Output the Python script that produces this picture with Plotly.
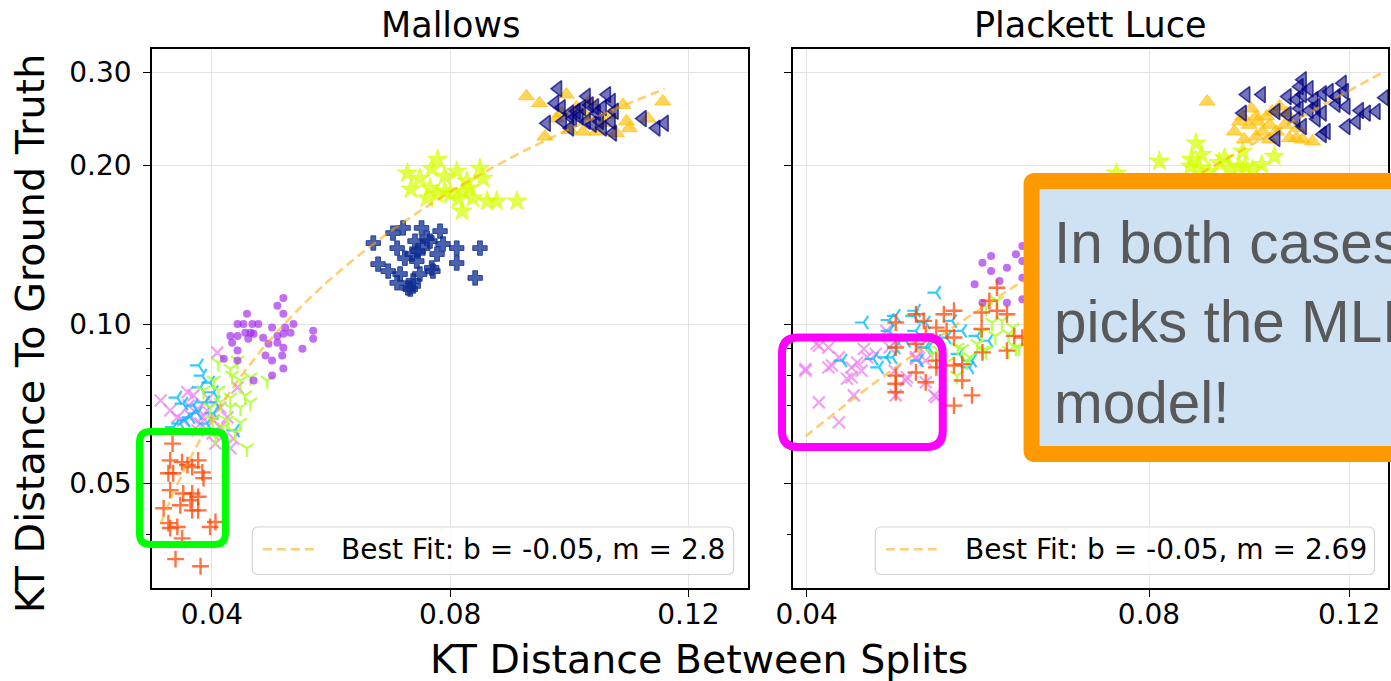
import numpy as np
import plotly.graph_objects as go

# ---------------- Mallows panel ----------------
mal_tri_left_x = [0.0981, 0.0976, 0.0962, 0.0987, 0.1001, 0.1012, 0.1021, 0.1029, 0.1034, 0.1046,
                  0.1056, 0.1063, 0.1071, 0.1076, 0.1071, 0.1073, 0.1056, 0.1039, 0.1029, 0.1006,
                  0.0989, 0.1123, 0.1146, 0.1160, 0.1001, 0.1051, 0.1017, 0.1043]
mal_tri_left_y = [0.279, 0.262, 0.240, 0.257, 0.251, 0.253, 0.257, 0.270, 0.260, 0.251,
                  0.257, 0.272, 0.264, 0.253, 0.242, 0.230, 0.235, 0.239, 0.242, 0.245,
                  0.242, 0.245, 0.235, 0.240, 0.235, 0.242, 0.247, 0.258]

mal_tri_up_x = [0.0928, 0.0950, 0.0959, 0.0995, 0.1001, 0.1023, 0.1034, 0.1046, 0.1057, 0.1090,
                0.1096, 0.1101, 0.1157, 0.1132, 0.1079, 0.1012, 0.0987, 0.0978, 0.1029, 0.1068]
mal_tri_up_y = [0.270, 0.262, 0.2265, 0.272, 0.233, 0.2315, 0.264, 0.2315, 0.240, 0.260,
                0.242, 0.235, 0.264, 0.245, 0.230, 0.257, 0.251, 0.245, 0.247, 0.249]

mal_star_x = [0.0728, 0.0749, 0.0769, 0.0779, 0.0766, 0.0761, 0.0791, 0.0811, 0.0828, 0.0850,
              0.0855, 0.0821, 0.0800, 0.0838, 0.0862, 0.0878, 0.0912, 0.0820, 0.0833, 0.0778,
              0.0813, 0.0734, 0.0791]
mal_star_y = [0.193, 0.1887, 0.197, 0.205, 0.1808, 0.1732, 0.1785, 0.1946, 0.1864, 0.197,
              0.1887, 0.1785, 0.1762, 0.1732, 0.1709, 0.1709, 0.1709, 0.1636, 0.1808, 0.1762,
              0.1724, 0.180, 0.1905]

mal_cross_x = [0.0671, 0.0679, 0.0696, 0.0704, 0.0711, 0.0716, 0.0721, 0.0729, 0.0736, 0.0741,
               0.0744, 0.0752, 0.0754, 0.0766, 0.0769, 0.0778, 0.0783, 0.0788, 0.0749, 0.0738,
               0.0724, 0.0811, 0.0850, 0.0811, 0.0842, 0.0771, 0.0711, 0.0733, 0.0738, 0.0761,
               0.0746]
mal_cross_y = [0.1424, 0.1299, 0.1260, 0.1487, 0.1393, 0.1244, 0.1521, 0.1171, 0.1357, 0.1436,
               0.1316, 0.1521, 0.1393, 0.1436, 0.1277, 0.1357, 0.1500, 0.1418, 0.1244, 0.1207,
               0.1333, 0.1393, 0.1393, 0.1305, 0.1223, 0.1260, 0.1197, 0.1165, 0.1181, 0.1455,
               0.1375]

mal_circle_x = [0.0520, 0.0510, 0.0520, 0.0459, 0.0443, 0.0453, 0.0468, 0.0478, 0.0431, 0.0443,
                0.0456, 0.0470, 0.0461, 0.0434, 0.0501, 0.0523, 0.0537, 0.0520, 0.0532, 0.0510,
                0.0495, 0.0510, 0.0520, 0.0443, 0.0443, 0.0420, 0.0490, 0.0501, 0.0518, 0.0520,
                0.0501, 0.0470, 0.0552, 0.0570, 0.0570, 0.0486, 0.0465]
mal_circle_y = [0.1121, 0.1083, 0.1046, 0.1046, 0.1001, 0.1001, 0.1001, 0.1001, 0.0950, 0.0950,
                0.0963, 0.0959, 0.0938, 0.0922, 0.0985, 0.0985, 0.1001, 0.0959, 0.0963, 0.0950,
                0.0918, 0.0922, 0.0902, 0.0891, 0.0853, 0.0860, 0.0872, 0.0853, 0.0872, 0.0824,
                0.0799, 0.0782, 0.0898, 0.0971, 0.0938, 0.0942, 0.0963]

mal_ydown_x = [0.0411, 0.0431, 0.0443, 0.0434, 0.0448, 0.0456, 0.0465, 0.0448, 0.0431, 0.0426,
               0.0439, 0.0459, 0.0403, 0.0411, 0.0493, 0.0401, 0.0414, 0.0397, 0.0386, 0.0419,
               0.0406, 0.0448, 0.0431, 0.0465]
mal_ydown_y = [0.0845, 0.0823, 0.0853, 0.0799, 0.0782, 0.0733, 0.0711, 0.0695, 0.0695, 0.0657,
               0.0624, 0.0582, 0.0782, 0.0749, 0.0782, 0.0657, 0.0711, 0.0695, 0.0749, 0.0638,
               0.0610, 0.0651, 0.0726, 0.0793]

mal_yleft_x = [0.0378, 0.0384, 0.0342, 0.0352, 0.0336, 0.0397, 0.0381, 0.0403, 0.0376, 0.0364,
               0.0392, 0.0439, 0.0403, 0.0369, 0.0356, 0.0389, 0.0406, 0.0347]
mal_yleft_y = [0.0835, 0.0799, 0.0726, 0.0707, 0.0638, 0.0775, 0.0759, 0.0678, 0.0678, 0.0666,
               0.0648, 0.0629, 0.0743, 0.0701, 0.0657, 0.0711, 0.0711, 0.0648]

mal_xmark_x = [0.0314, 0.0330, 0.0359, 0.0369, 0.0361, 0.0376, 0.0364, 0.0384, 0.0392, 0.0403,
               0.0414, 0.0426, 0.0443, 0.0409, 0.0436, 0.0431, 0.0381, 0.0352, 0.0342, 0.0401,
               0.0406, 0.0376, 0.0414, 0.0394]
mal_xmark_y = [0.0717, 0.0686, 0.0743, 0.0733, 0.0701, 0.0691, 0.0671, 0.0666, 0.0686, 0.0657,
               0.0695, 0.0666, 0.0759, 0.0883, 0.0607, 0.0582, 0.0648, 0.0657, 0.0666, 0.0621,
               0.0594, 0.0629, 0.0638, 0.0723]

mal_plus_x = [0.0334, 0.0330, 0.0350, 0.0359, 0.0377, 0.0327, 0.0335, 0.0384, 0.0367, 0.0386,
              0.0330, 0.0352, 0.0367, 0.0377, 0.0319, 0.0347, 0.0367, 0.0377, 0.0327, 0.0342,
              0.0350, 0.0330, 0.0397, 0.0406, 0.0339, 0.0381, 0.0364]
mal_plus_y = [0.0594, 0.0552, 0.0548, 0.0541, 0.0552, 0.0522, 0.0522, 0.0524, 0.0536, 0.0511,
              0.0485, 0.0478, 0.0478, 0.0471, 0.0448, 0.0454, 0.0444, 0.0444, 0.0420, 0.0413,
              0.0393, 0.0411, 0.0413, 0.0422, 0.0359, 0.0348, 0.0464]

mal_fit_m = 2.8
mal_fit_b = -0.046

# ---------------- Plackett Luce panel ----------------
pl_tri_left_x = [0.0974, 0.1005, 0.1092, 0.1085, 0.1107, 0.1059, 0.1078, 0.1092, 0.1118, 0.1137,
                 0.1153, 0.1169, 0.1184, 0.1189, 0.1085, 0.1107, 0.1123, 0.1137, 0.1169, 0.1193,
                 0.1226, 0.1243, 0.1268, 0.1289, 0.1218, 0.1193, 0.1092, 0.1146, 0.1137, 0.1035,
                 0.0967, 0.1035, 0.1059, 0.1078, 0.1123]
pl_tri_left_y = [0.2720, 0.2720, 0.2902, 0.2816, 0.2791, 0.2696, 0.2661, 0.2720, 0.2661, 0.2730,
                 0.2756, 0.2696, 0.2857, 0.2756, 0.2559, 0.2537, 0.2582, 0.2509, 0.2607, 0.2582,
                 0.2537, 0.2509, 0.2526, 0.2684, 0.2418, 0.2366, 0.2366, 0.2315, 0.2286, 0.2246,
                 0.2509, 0.2526, 0.2494, 0.2440, 0.2446]

pl_tri_up_x = [0.0900, 0.0967, 0.0984, 0.0997, 0.1015, 0.1027, 0.1042, 0.1057, 0.1021, 0.1007,
               0.0980, 0.0951, 0.0970, 0.0994, 0.1035, 0.1063, 0.1078, 0.1092, 0.1114, 0.1053,
               0.1021, 0.1080, 0.0994, 0.0961]
pl_tri_up_y = [0.2638, 0.2472, 0.2559, 0.2418, 0.2472, 0.2526, 0.2582, 0.2509, 0.2384, 0.2315,
               0.2384, 0.2315, 0.2236, 0.2265, 0.2315, 0.2249, 0.2249, 0.2236, 0.2217, 0.2384,
               0.2236, 0.2350, 0.2472, 0.2418]

pl_star_x = [0.0817, 0.0880, 0.0872, 0.0890, 0.0886, 0.0932, 0.0942, 0.0967, 0.0971, 0.1005,
             0.1031, 0.0987, 0.0904, 0.0749, 0.0870, 0.0960, 0.0922, 0.0780, 0.0830, 0.0880,
             0.0720, 0.0790, 0.0850]
pl_star_y = [0.2033, 0.2201, 0.2048, 0.2093, 0.1975, 0.2062, 0.1975, 0.2123, 0.1989, 0.2003,
             0.2077, 0.1961, 0.1945, 0.1930, 0.1989, 0.1989, 0.2020, 0.1850, 0.1800, 0.1760,
             0.1780, 0.1700, 0.1850]

pl_cross_x = [0.0670, 0.0690, 0.0710, 0.0730, 0.0700, 0.0720, 0.0750, 0.0680, 0.0740, 0.0710]
pl_cross_y = [0.1300, 0.1380, 0.1250, 0.1330, 0.1200, 0.1420, 0.1280, 0.1220, 0.1360, 0.1160]

pl_circle_x = [0.0571, 0.0581, 0.0581, 0.0600, 0.0611, 0.0619, 0.0619, 0.0619, 0.0591, 0.0562,
               0.0571, 0.0600, 0.0619, 0.0650, 0.0680, 0.0660, 0.0700, 0.0720, 0.0660]
pl_circle_y = [0.1307, 0.1346, 0.1260, 0.1279, 0.1356, 0.1405, 0.1316, 0.1224, 0.1207, 0.1190,
               0.1098, 0.1098, 0.1115, 0.1400, 0.1500, 0.1250, 0.1450, 0.1350, 0.1180]

pl_ydown_x = [0.0543, 0.0553, 0.0542, 0.0570, 0.0575, 0.0586, 0.0582, 0.0607, 0.0602, 0.0615,
              0.0523, 0.0516, 0.0588, 0.0565, 0.0575, 0.0594, 0.0602, 0.0571, 0.0611, 0.0556,
              0.0531, 0.0548, 0.0640, 0.0660, 0.0680, 0.0700]
pl_ydown_y = [0.0903, 0.0853, 0.0799, 0.0964, 0.0891, 0.0950, 0.1007, 0.0985, 0.0891, 0.0903,
              0.0891, 0.0878, 0.1107, 0.0917, 0.1075, 0.1014, 0.0957, 0.0891, 0.0903, 0.0866,
              0.0846, 0.0897, 0.1050, 0.1100, 0.1000, 0.1120]

pl_yleft_x = [0.0520, 0.0479, 0.0449, 0.0497, 0.0473, 0.0489, 0.0479, 0.0458, 0.0430, 0.0463,
              0.0470, 0.0499, 0.0509, 0.0537, 0.0548, 0.0565, 0.0559, 0.0578, 0.0509, 0.0499,
              0.0473, 0.0476, 0.0502, 0.0512, 0.0520, 0.0531, 0.0545, 0.0556]
pl_yleft_y = [0.1147, 0.1037, 0.1007, 0.1037, 0.0971, 0.0930, 0.0903, 0.0859, 0.0853, 0.0828,
              0.0865, 0.0971, 0.0903, 0.1014, 0.0971, 0.0950, 0.0853, 0.0930, 0.1007, 0.1060,
              0.1018, 0.0865, 0.0853, 0.0903, 0.0930, 0.0943, 0.0878, 0.0828]

pl_xmark_x = [0.0410, 0.0418, 0.0399, 0.0410, 0.0421, 0.0427, 0.0438, 0.0443, 0.0447, 0.0452,
              0.0460, 0.0470, 0.0473, 0.0440, 0.0427, 0.0479, 0.0499, 0.0509, 0.0509, 0.0518,
              0.0490, 0.0478, 0.0434, 0.0449, 0.0479, 0.0502, 0.0408, 0.0399, 0.0418, 0.0438,
              0.0489, 0.0520, 0.0499]
pl_xmark_y = [0.0910, 0.0903, 0.0822, 0.0711, 0.0835, 0.0865, 0.0828, 0.0846, 0.0816, 0.0865,
              0.0878, 0.0971, 0.0903, 0.0733, 0.0652, 0.0733, 0.0859, 0.0853, 0.0776, 0.0733,
              0.0793, 0.0816, 0.0788, 0.0897, 0.0930, 0.0903, 0.0917, 0.0816, 0.0828, 0.0793,
              0.0782, 0.0727, 0.0865]

pl_plus_x = [0.0588, 0.0579, 0.0600, 0.0570, 0.0539, 0.0528, 0.0499, 0.0507, 0.0479, 0.0520,
             0.0531, 0.0539, 0.0509, 0.0499, 0.0479, 0.0570, 0.0571, 0.0609, 0.0600, 0.0548,
             0.0539, 0.0520, 0.0499, 0.0479, 0.0479, 0.0479, 0.0509, 0.0548, 0.0559, 0.0539,
             0.0520, 0.0588, 0.0619]
pl_plus_y = [0.1172, 0.1107, 0.1044, 0.1052, 0.1060, 0.1044, 0.1044, 0.1014, 0.1007, 0.0985,
             0.0971, 0.0943, 0.0957, 0.0917, 0.0903, 0.0979, 0.0884, 0.0950, 0.0891, 0.0840,
             0.0835, 0.0828, 0.0810, 0.0799, 0.0771, 0.0743, 0.0776, 0.0782, 0.0733, 0.0701,
             0.0853, 0.1060, 0.0943]

pl_fit_m = 2.69
pl_fit_b = -0.046

panel_titles = ["Mallows", "Plackett Luce"]
x_ticks = [0.04, 0.08, 0.12]
x_tick_text = ["0.04", "0.08", "0.12"]
y_ticks = [0.05, 0.10, 0.20, 0.30]
y_tick_text = ["0.05", "0.10", "0.20", "0.30"]
y_minor_ticks = [0.04, 0.06, 0.07, 0.08, 0.09]
x_title = "KT Distance Between Splits"
y_title = "KT Distance To Ground Truth"
callout_lines = ["In both cases,", "picks the MLE", "model!"]

# ---------------- figure geometry (pixels) ----------------
W, H = 1391, 681
ML, MT, MR, MB = 152, 49, 1, 93
PW, PH = W - ML - MR, H - MT - MB
LEFT_PANEL = (152, 749)
RIGHT_PANEL = (794, 1391)


def px(xp):
    return (xp - ML) / PW


def py(yp):
    return 1 - (yp - MT) / PH


def rounded_rect(x0, y0, x1, y1, r):
    """Rounded rectangle given in pixels, returned as a paper-space SVG path."""
    pts = [
        ("M", [(x0 + r, y0)]),
        ("L", [(x1 - r, y0)]),
        ("Q", [(x1, y0), (x1, y0 + r)]),
        ("L", [(x1, y1 - r)]),
        ("Q", [(x1, y1), (x1 - r, y1)]),
        ("L", [(x0 + r, y1)]),
        ("Q", [(x0, y1), (x0, y1 - r)]),
        ("L", [(x0, y0 + r)]),
        ("Q", [(x0, y0), (x0 + r, y0)]),
    ]
    out = []
    for cmd, coords in pts:
        out.append(cmd + " ".join(f"{px(a):.5f},{py(b):.5f}" for a, b in coords))
    return " ".join(out) + " Z"


FONT = "DejaVu Sans"

styles = {
    "xmark": dict(symbol="x-thin-open", size=12, color="rgba(238,130,238,0.75)", lw=2.2),
    "yleft": dict(symbol="y-left-open", size=11, color="rgba(0,191,255,0.8)", lw=2.2),
    "ydown": dict(symbol="y-down-open", size=11, color="rgba(173,255,47,0.85)", lw=2.2),
    "circle": dict(symbol="circle", size=8, color="rgba(160,32,240,0.65)", lw=0),
    "plus": dict(symbol="cross-thin-open", size=12, color="rgba(255,69,0,0.75)", lw=2.4),
    "cross": dict(symbol="cross", size=12, color="rgba(15,45,145,0.75)", lw=1,
                  line="rgba(15,45,145,0.8)"),
    "star": dict(symbol="star", size=15, color="rgba(214,255,0,0.7)", lw=1,
                 line="rgba(214,255,0,0.7)"),
    "tri_up": dict(symbol="triangle-up", size=14, color="rgba(255,191,0,0.65)", lw=1,
                   line="rgba(255,191,0,0.7)"),
    "tri_left": dict(symbol="triangle-left", size=14, color="rgba(0,0,128,0.55)", lw=1.6,
                     line="rgba(0,0,128,0.7)"),
}

panels = [
    dict(xa="x", ya="y", m=mal_fit_m, b=mal_fit_b, series=[
        ("xmark", mal_xmark_x, mal_xmark_y), ("yleft", mal_yleft_x, mal_yleft_y),
        ("ydown", mal_ydown_x, mal_ydown_y), ("circle", mal_circle_x, mal_circle_y),
        ("plus", mal_plus_x, mal_plus_y), ("cross", mal_cross_x, mal_cross_y),
        ("star", mal_star_x, mal_star_y), ("tri_up", mal_tri_up_x, mal_tri_up_y),
        ("tri_left", mal_tri_left_x, mal_tri_left_y)]),
    dict(xa="x2", ya="y2", m=pl_fit_m, b=pl_fit_b, series=[
        ("xmark", pl_xmark_x, pl_xmark_y), ("yleft", pl_yleft_x, pl_yleft_y),
        ("ydown", pl_ydown_x, pl_ydown_y), ("circle", pl_circle_x, pl_circle_y),
        ("plus", pl_plus_x, pl_plus_y), ("cross", pl_cross_x, pl_cross_y),
        ("star", pl_star_x, pl_star_y), ("tri_up", pl_tri_up_x, pl_tri_up_y),
        ("tri_left", pl_tri_left_x, pl_tri_left_y)]),
]

fig = go.Figure()
for p in panels:
    all_x = []
    for key, xs, ys in p["series"]:
        st = styles[key]
        all_x += xs
        fig.add_trace(go.Scatter(
            x=xs, y=ys, mode="markers", xaxis=p["xa"], yaxis=p["ya"], showlegend=False,
            marker=dict(symbol=st["symbol"], size=st["size"], color=st["color"],
                        line=dict(width=st["lw"], color=st.get("line", st["color"]))),
            hoverinfo="x+y"))
    # best-fit line y = m x + b across the panel's data
    fx = np.linspace(min(all_x), max(all_x), 300)
    fig.add_trace(go.Scatter(
        x=fx, y=p["m"] * fx + p["b"], mode="lines", xaxis=p["xa"], yaxis=p["ya"],
        showlegend=False, line=dict(color="rgba(255,165,0,0.55)", width=2.6, dash="9px,5px"),
        hoverinfo="skip"))

axis_common = dict(showline=True, linecolor="black", linewidth=1.6, mirror=True,
                   ticks="outside", ticklen=7, tickwidth=1.4, tickcolor="black",
                   showgrid=True, gridcolor="#e3e3e3", gridwidth=1, zeroline=False,
                   tickfont=dict(family=FONT, size=28, color="black"))

yaxis_common = dict(axis_common, type="log",
                    range=[np.log10(0.03165), np.log10(0.3318)],
                    tickmode="array", tickvals=y_ticks, ticktext=y_tick_text,
                    minor=dict(tickmode="array", tickvals=y_minor_ticks, ticks="outside",
                               ticklen=4, tickwidth=1.2, tickcolor="black", showgrid=False))

fig.update_layout(
    width=W, height=H,
    margin=dict(l=ML, r=MR, t=MT, b=MB, pad=0),
    paper_bgcolor="white", plot_bgcolor="white",
    font=dict(family=FONT, color="black"),
    xaxis=dict(axis_common, domain=[px(LEFT_PANEL[0]), px(LEFT_PANEL[1])],
               range=[0.02995, 0.1300], tickmode="array", tickvals=x_ticks,
               ticktext=x_tick_text, anchor="y", ticklabelstandoff=-6),
    xaxis2=dict(axis_common, domain=[px(RIGHT_PANEL[0]), 1.0], type="log",
                range=[np.log10(0.0389), np.log10(0.1298)], tickmode="array",
                tickvals=x_ticks, ticktext=x_tick_text, anchor="y2", ticklabelstandoff=-6),
    yaxis=dict(yaxis_common, anchor="x", ticklabelstandoff=6),
    yaxis2=dict(yaxis_common, anchor="x2", matches="y", showticklabels=False),
)

shapes = []
annotations = []

# legends drawn in each panel's lower right corner
legend_boxes = [(252.5, 527, 734.5, 574.5, 263, 319, 341.5, mal_fit_m, mal_fit_b),
                (876.5, 527, 1376.5, 574.5, 887, 943, 966, pl_fit_m, pl_fit_b)]
for x0, y0, x1, y1, lx0, lx1, tx, m, b in legend_boxes:
    shapes.append(dict(type="path", xref="paper", yref="paper", layer="above",
                       path=rounded_rect(x0, y0, x1, y1, 6),
                       fillcolor="rgba(255,255,255,0.8)", line=dict(color="#d4d4d4", width=1.2)))
    ly = (y0 + y1) / 2 - 1.5
    shapes.append(dict(type="line", xref="paper", yref="paper", layer="above",
                       x0=px(lx0), x1=px(lx1), y0=py(ly), y1=py(ly),
                       line=dict(color="rgba(255,165,0,0.55)", width=2.6, dash="9px,5px")))
    annotations.append(dict(xref="paper", yref="paper", x=px(tx - 2), y=py(ly),
                            xanchor="left", yanchor="middle", showarrow=False,
                            text=f"Best Fit: b = {b:.2f}, m = {m:g}",
                            font=dict(family=FONT, size=28, color="black")))

# highlight outlines
shapes.append(dict(type="path", xref="paper", yref="paper", layer="above",
                   path=rounded_rect(139.5, 431.5, 225.5, 544.5, 11),
                   line=dict(color="#00ff00", width=7)))
shapes.append(dict(type="path", xref="paper", yref="paper", layer="above",
                   path=rounded_rect(783, 337.5, 944, 447, 16),
                   line=dict(color="#ff00ff", width=8)))
# callout box (runs past the right edge of the figure)
shapes.append(dict(type="path", xref="paper", yref="paper", layer="above",
                   path=rounded_rect(1033, 181, 1440, 454, 3),
                   fillcolor="#cfe2f3", line=dict(color="#ff9900", width=16)))
for i, line_text in enumerate(callout_lines):
    annotations.append(dict(xref="paper", yref="paper", x=px(1053), y=py(242 + 80 * i),
                            xanchor="left", yanchor="middle", showarrow=False,
                            text=line_text,
                            font=dict(family="Arial, Liberation Sans", size=58.5,
                                      color="#595959")))

# panel titles and shared axis titles
for title, (a, b) in zip(panel_titles, [LEFT_PANEL, RIGHT_PANEL]):
    annotations.append(dict(xref="paper", yref="paper", x=px((a + b) / 2), y=py(25),
                            xanchor="center", yanchor="middle", showarrow=False, text=title,
                            font=dict(family=FONT, size=35, color="black")))
annotations.append(dict(xref="paper", yref="paper", x=px(700), y=py(659),
                        xanchor="center", yanchor="middle", showarrow=False, text=x_title,
                        font=dict(family=FONT, size=39.5, color="black")))
annotations.append(dict(xref="paper", yref="paper", x=px(30), y=py(333), textangle=-90,
                        xanchor="center", yanchor="middle", showarrow=False, text=y_title,
                        font=dict(family=FONT, size=39.7, color="black")))

fig.update_layout(shapes=shapes, annotations=annotations)
fig.write_html("out.html", config={"displayModeBar": False})
